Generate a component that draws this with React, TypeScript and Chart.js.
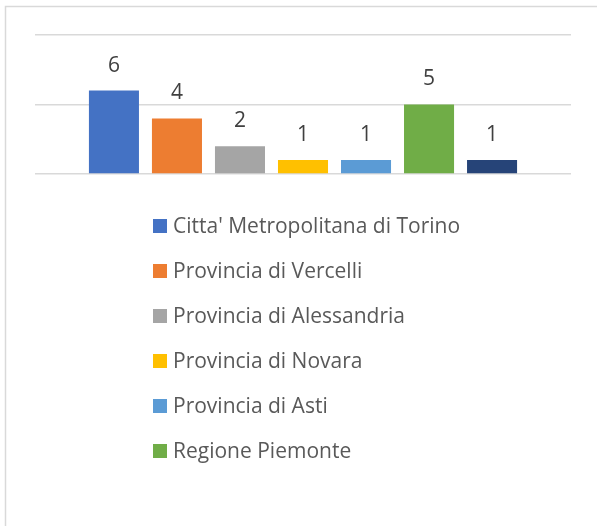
import React, { useEffect, useRef } from "react";
import { Chart, registerables } from "chart.js";

Chart.register(...registerables);

const categories = [""];
const seriesNames = [
  "Citta' Metropolitana di Torino",
  "Provincia di Vercelli",
  "Provincia di Alessandria",
  "Provincia di Novara",
  "Provincia di Asti",
  "Regione Piemonte",
  "Provincia di Cuneo",
];
const seriesValues = [6, 4, 2, 1, 1, 5, 1];
const seriesColors = ["#4472C4", "#ED7D31", "#A5A5A5", "#FFC000", "#5B9BD5", "#70AD47", "#264478"];
const legendShown = 6;
const yTicks = [0, 5, 10];

const FONT = "'Open Sans', 'Noto Sans', sans-serif";

const frame = {
  id: "frame",
  beforeDraw(chart: any) {
    const ctx = chart.ctx;
    ctx.save();
    ctx.fillStyle = "#ffffff";
    ctx.fillRect(0, 0, chart.width, chart.height);
    ctx.strokeStyle = "#d9d9d9";
    ctx.lineWidth = 1.5;
    ctx.strokeRect(5.5, 6.5, chart.width + 20, chart.height + 20);
    ctx.restore();
  },
};

const valueLabels = {
  id: "valueLabels",
  afterDatasetsDraw(chart: any) {
    const ctx = chart.ctx;
    ctx.save();
    ctx.font = `21px ${FONT}`;
    ctx.fillStyle = "#404040";
    ctx.textAlign = "center";
    ctx.textBaseline = "middle";
    chart.data.datasets.forEach((ds: any, i: number) => {
      const meta = chart.getDatasetMeta(i);
      meta.data.forEach((el: any, j: number) => {
        ctx.fillText(String(ds.data[j]), el.x, el.y - 25);
      });
    });
    ctx.restore();
  },
};

const columnLegend = {
  id: "columnLegend",
  afterDraw(chart: any) {
    const ctx = chart.ctx;
    ctx.save();
    ctx.font = `21px ${FONT}`;
    ctx.textAlign = "left";
    ctx.textBaseline = "middle";
    const x0 = 153;
    const y0 = 226;
    const step = 45;
    chart.data.datasets.slice(0, legendShown).forEach((ds: any, i: number) => {
      const cy = y0 + i * step;
      ctx.fillStyle = ds.backgroundColor;
      ctx.fillRect(x0, cy - 7, 14, 14);
      ctx.fillStyle = "#595959";
      ctx.fillText(ds.label, x0 + 20, cy + 1);
    });
    ctx.restore();
  },
};

export default function App() {
  const ref = useRef<HTMLCanvasElement>(null);
  useEffect(() => {
    if (!ref.current) return;
    const chart = new Chart(ref.current, {
      type: "bar",
      data: {
        labels: categories,
        datasets: seriesNames.map((name, i) => ({
          label: name,
          data: [seriesValues[i]],
          backgroundColor: seriesColors[i],
          borderWidth: 0,
          categoryPercentage: 0.823,
          barPercentage: 0.794,
        })),
      },
      options: {
        animation: false,
        responsive: false,
        maintainAspectRatio: false,
        layout: { padding: { left: 35, right: 26, top: 35, bottom: 352 } },
        plugins: {
          legend: { display: false },
          tooltip: { enabled: false },
          title: { display: false },
        },
        scales: {
          x: { display: false },
          y: {
            min: yTicks[0],
            max: yTicks[yTicks.length - 1],
            afterBuildTicks: (axis: any) => {
              axis.ticks = yTicks.map((v) => ({ value: v }));
            },
            ticks: { display: false },
            border: { display: false },
            grid: { color: "#d9d9d9", lineWidth: 1.5, drawTicks: false },
          },
        },
      },
      plugins: [frame, valueLabels, columnLegend],
    });
    return () => chart.destroy();
  }, []);
  return (
    <div style={{ position: "fixed", left: 0, top: 0, width: 597, height: 526, background: "#fff" }}>
      <canvas ref={ref} width={597} height={526} style={{ display: "block" }} />
    </div>
  );
}
